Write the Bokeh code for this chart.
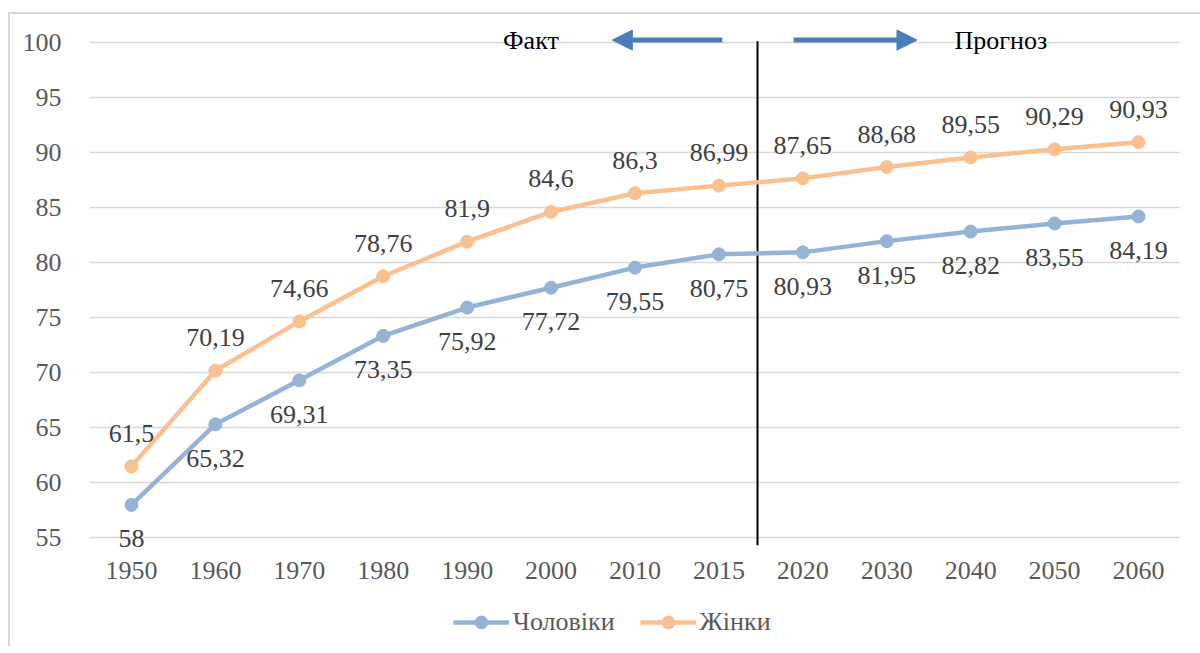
from bokeh.plotting import figure
from bokeh.layouts import column
from bokeh.models import (Range1d, FixedTicker, Label, Arrow, NormalHead, Legend,
                          LegendItem, ColumnDataSource)
from bokeh.core.properties import value
from bokeh.embed import file_html
from bokeh.resources import INLINE

# ---- data ----
years = ["1950", "1960", "1970", "1980", "1990", "2000", "2010", "2015",
         "2020", "2030", "2040", "2050", "2060"]
men = [58, 65.32, 69.31, 73.35, 75.92, 77.72, 79.55, 80.75,
       80.93, 81.95, 82.82, 83.55, 84.19]
women = [61.5, 70.19, 74.66, 78.76, 81.9, 84.6, 86.3, 86.99,
         87.65, 88.68, 89.55, 90.29, 90.93]
y_ticks = [55, 60, 65, 70, 75, 80, 85, 90, 95, 100]
series_names = ["Чоловіки", "Жінки"]
split_year = "2020"


def fmt(v):
    return f"{v:g}".replace(".", ",")


FONT = value("Liberation Serif")
FS = "26px"
MEN_C = "#95B3D7"
WOMEN_C = "#FAC090"
ARROW_C = "#4A7EBB"

xs = [i + 0.5 for i in range(len(years))]
src = ColumnDataSource(dict(
    x=xs, men=men, women=women,
    men_lbl=[fmt(v) for v in men],
    women_lbl=[fmt(v) for v in women],
))

p = figure(width=1190, height=572,
           x_range=Range1d(0, len(years)), y_range=Range1d(53.5, 101.8),
           output_backend="svg", toolbar_location=None,
           min_border_left=79, min_border_right=20, min_border_top=8,
           min_border_bottom=32)
p.outline_line_color = None
p.background_fill_color = "white"
p.border_fill_color = "white"

# axes
p.xaxis.ticker = FixedTicker(ticks=xs)
p.xaxis.major_label_overrides = {x: y for x, y in zip(xs, years)}
p.yaxis.ticker = FixedTicker(ticks=y_ticks)
for ax in (p.xaxis[0], p.yaxis[0]):
    ax.axis_line_color = None
    ax.major_tick_line_color = None
    ax.minor_tick_line_color = None
    ax.major_label_text_font = "Liberation Serif"
    ax.major_label_text_font_size = FS
    ax.major_label_text_color = "#595959"
p.xaxis.major_label_standoff = 1
p.yaxis.major_label_standoff = 22
p.xgrid.grid_line_color = None
p.ygrid.grid_line_color = "#D9D9D9"
p.ygrid.grid_line_width = 1.5

# vertical separator
sx = years.index(split_year) - 0.04
p.segment(x0=[sx], x1=[sx], y0=[100.1], y1=[54.35], line_color="black", line_width=2)

# series
line_kw = dict(line_width=4.5)
p.line("x", "men", source=src, line_color=MEN_C, **line_kw)
p.scatter("x", "men", source=src, size=13, fill_color=MEN_C, line_color=MEN_C)
p.line("x", "women", source=src, line_color=WOMEN_C, **line_kw)
p.scatter("x", "women", source=src, size=13, fill_color=WOMEN_C, line_color=WOMEN_C)

# data labels
p.text("x", "men", text="men_lbl", source=src, y_offset=34, text_align="center",
       text_baseline="middle", text_font=FONT, text_font_size=FS, text_color="#404040")
p.text("x", "women", text="women_lbl", source=src, y_offset=-33, text_align="center",
       text_baseline="middle", text_font=FONT, text_font_size=FS, text_color="#404040")

# arrows & annotations
ay = 100.2
p.add_layout(Arrow(x_start=7.54, y_start=ay, x_end=6.23, y_end=ay, line_color=ARROW_C,
                   line_width=5, end=NormalHead(size=20, fill_color=ARROW_C,
                                                line_color=ARROW_C)))
p.add_layout(Arrow(x_start=8.39, y_start=ay, x_end=9.86, y_end=ay, line_color=ARROW_C,
                   line_width=5, end=NormalHead(size=20, fill_color=ARROW_C,
                                                line_color=ARROW_C)))
p.add_layout(Label(x=5.26, y=ay, text="Факт", text_align="center", text_baseline="middle",
                   text_font="Liberation Serif", text_font_size=FS, text_color="black"))
p.add_layout(Label(x=10.86, y=ay, text="Прогноз", text_align="center",
                   text_baseline="middle", text_font="Liberation Serif",
                   text_font_size=FS, text_color="black"))

# legend strip (separate figure below the chart); series drawn off-range there
lg = figure(width=1190, height=60, x_range=Range1d(-100, -99), y_range=Range1d(-100, -99),
            output_backend="svg", toolbar_location=None,
            x_axis_location=None, y_axis_location=None,
            min_border_left=0, min_border_right=0, min_border_top=0, min_border_bottom=0)
lg.outline_line_color = None
lg.xgrid.grid_line_color = None
lg.ygrid.grid_line_color = None
r1l = lg.line("x", "men", source=src, line_color=MEN_C, **line_kw)
r1c = lg.scatter("x", "men", source=src, size=13, fill_color=MEN_C, line_color=MEN_C)
r2l = lg.line("x", "women", source=src, line_color=WOMEN_C, **line_kw)
r2c = lg.scatter("x", "women", source=src, size=13, fill_color=WOMEN_C, line_color=WOMEN_C)
legend = Legend(items=[LegendItem(label=series_names[0], renderers=[r1l, r1c]),
                       LegendItem(label=series_names[1], renderers=[r2l, r2c])],
                orientation="horizontal", location=(364, 8),
                label_text_font="Liberation Serif", label_text_font_size=FS,
                label_text_color="#595959", glyph_width=56, glyph_height=32,
                label_standoff=4, spacing=25, border_line_color=None,
                background_fill_alpha=0, margin=0, padding=8)
lg.add_layout(legend)

layout = column(p, lg, spacing=0)
layout.styles = {"border-top": "2px solid #D9D9D9", "border-left": "2px solid #D9D9D9",
                 "margin-left": "8px", "margin-top": "12px"}

open("out.html", "w").write(file_html(layout, INLINE))
